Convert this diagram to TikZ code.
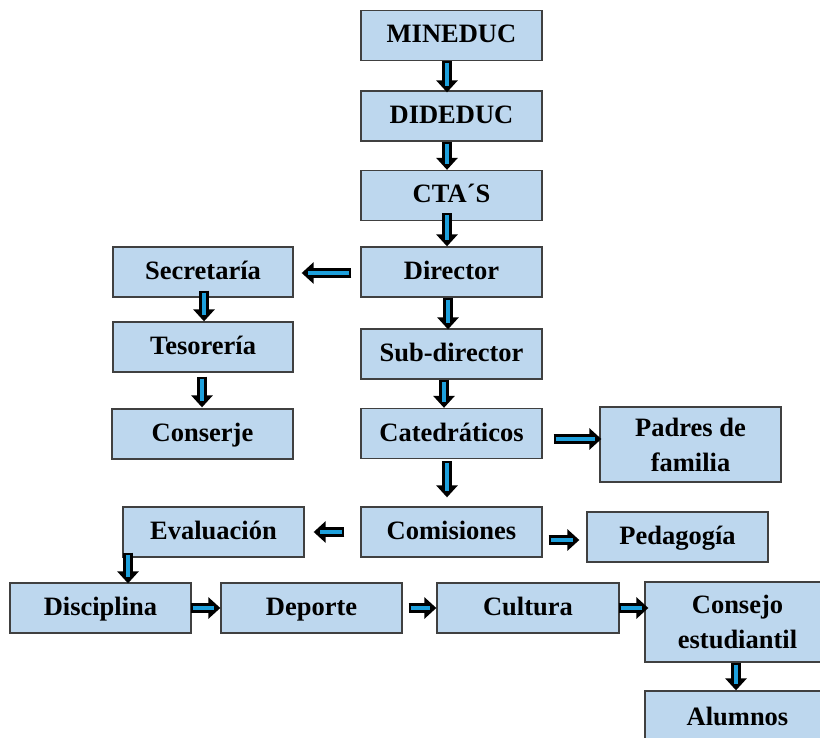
\documentclass[tikz,border=0pt]{standalone}
\usepackage{fontspec}
\setmainfont{Liberation Serif}
\usetikzlibrary{arrows.meta}
\definecolor{boxfill}{HTML}{BDD7EE}
\definecolor{boxline}{HTML}{404040}
\definecolor{arrowblue}{HTML}{1EA0DC}
\tikzset{
 boxbase/.style={draw=boxline, line width=1.3pt, fill=boxfill, minimum width=181pt, minimum height=50pt, inner sep=0pt, align=center, font=\fontsize{26.5}{35}\selectfont\bfseries},
 box/.style={boxbase, text height=18pt, text depth=3pt},
 twoline/.style={boxbase},
 arrowouter/.style={draw=black, line width=9.5pt, -{Triangle[width=21pt,length=12pt]}},
 arrowinner/.style={draw=arrowblue, line width=3.5pt},
}
\newcommand\barrow[4]{%
 \draw[arrowouter, shorten <=#3, shorten >=#4] (#1) -- (#2);
 \draw[arrowinner, shorten <=#3+2pt, shorten >=#4+6pt] (#1) -- (#2);}
\begin{document}
\begin{tikzpicture}[x=1pt,y=-1pt]
\useasboundingbox (0,0) rectangle (820,738);
\node[box] (mineduc) at (451.5,35.5) {MINEDUC};
\node[box] (dideduc) at (451.5,116) {DIDEDUC};
\node[box] (cta) at (451.5,195.5) {CTA´S};
\node[box] (dir) at (451.5,272) {Director};
\node[box] (sub) at (451.5,354) {Sub-director};
\node[box] (cat) at (451.5,433.5) {Catedráticos};
\node[box] (com) at (451.5,532) {Comisiones};
\node[twoline, minimum height=75pt] (pad) at (690.5,444.5) {Padres de\\familia};
\node[box] (ped) at (677.5,537) {Pedagogía};
\node[box, minimum width=180pt] (sec) at (203,272) {Secretaría};
\node[box, minimum width=180pt] (tes) at (203,347) {Tesorería};
\node[box] (con) at (202.5,434) {Conserje};
\node[box] (eva) at (213.5,532) {Evaluación};
\node[box] (dis) at (100.5,608) {Disciplina};
\node[box] (dep) at (311.5,608) {Deporte};
\node[box, minimum width=182pt] (cul) at (528,608) {Cultura};
\node[twoline, minimum width=185pt, minimum height=80pt] (cons) at (737.5,622) {Consejo\\estudiantil};
\node[box, minimum width=185pt, minimum height=54pt] (alu) at (737.5,718) {Alumnos};
\barrow{[xshift=-4.5pt]mineduc.south}{[xshift=-4.5pt]dideduc.north}{0pt}{-2pt}
\barrow{[xshift=-4.5pt]dideduc.south}{[xshift=-4.5pt]cta.north}{0pt}{0pt}
\barrow{[xshift=-4.5pt]cta.south}{[xshift=-4.5pt]dir.north}{-8pt}{0pt}
\barrow{[yshift=-1pt]dir.west}{[yshift=-1pt]sec.east}{9pt}{8pt}
\barrow{[xshift=-3.5pt]dir.south}{[xshift=-3.5pt]sub.north}{0pt}{-1pt}
\barrow{[xshift=1pt]sec.south}{[xshift=1pt]tes.north}{-7pt}{0pt}
\barrow{[xshift=-1pt]tes.south}{[xshift=-0.5pt]con.north}{4pt}{1pt}
\barrow{[xshift=-7.5pt]sub.south}{[xshift=-7.5pt]cat.north}{0pt}{0pt}
\barrow{[yshift=-5.5pt]cat.east}{[yshift=5.5pt]pad.west}{11pt}{-2pt}
\barrow{[xshift=-4.5pt]cat.south}{[xshift=-4.5pt]com.north}{2pt}{9pt}
\barrow{com.west}{eva.east}{16pt}{9pt}
\barrow{[yshift=-8pt]com.east}{[yshift=-3pt]ped.west}{6pt}{7pt}
\barrow{[xshift=-85.5pt]eva.south}{[xshift=27.5pt]dis.north}{-5pt}{-1pt}
\barrow{dis.east}{dep.west}{-1pt}{0pt}
\barrow{dep.east}{cul.west}{6pt}{0pt}
\barrow{cul.east}{[yshift=14pt]cons.west}{-1pt}{-4pt}
\barrow{[xshift=-1.5pt]cons.south}{[xshift=-1.5pt]alu.north}{0pt}{0pt}
\end{tikzpicture}
\end{document}
